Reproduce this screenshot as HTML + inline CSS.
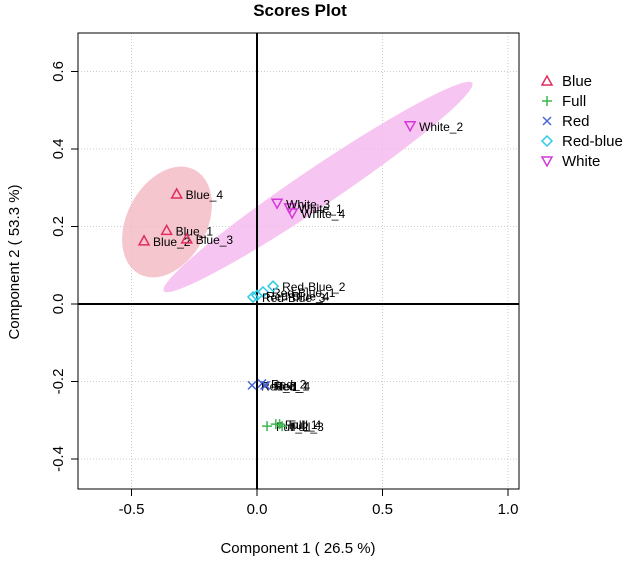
<!DOCTYPE html>
<html><head><meta charset="utf-8"><style>
body{margin:0;background:#fff;font-family:"Liberation Sans",sans-serif}
</style></head><body>
<svg id="chart" width="638" height="562" xmlns="http://www.w3.org/2000/svg" font-family="Liberation Sans, sans-serif">
<text x="300" y="16" text-anchor="middle" font-weight="bold" font-size="17">Scores Plot</text>
<g id="grid"></g>
<ellipse cx="167" cy="222" rx="40" ry="59" transform="rotate(28 167 222)" fill="#f2b8c0" opacity="0.8"/>
<ellipse cx="318" cy="187" rx="186" ry="19" transform="rotate(-34 318 187)" fill="#f5b6ee" opacity="0.8"/>
<g id="axes"></g>
<g id="marks"></g>
<rect x="78" y="33" width="441" height="456" fill="none" stroke="#000"/>
<text x="298" y="553" text-anchor="middle" font-size="15">Component 1 ( 26.5 %)</text>
<text transform="translate(19 262) rotate(-90)" text-anchor="middle" font-size="15">Component 2 ( 53.3 %)</text>
<g id="legend"></g>
</svg>
<script>
const xTicks=[-0.5,0.0,0.5,1.0];
const xTickLabels=["-0.5","0.0","0.5","1.0"];
const yTicks=[-0.4,-0.2,0.0,0.2,0.4,0.6];
const yTickLabels=["-0.4","-0.2","0.0","0.2","0.4","0.6"];
const groups=["Blue","Full","Red","Red-blue","White"];
const sampleNames=["Blue_1","Blue_2","Blue_3","Blue_4","Full_1","Full_2","Full_3","Full_4","Red_1","Red_2","Red_3","Red_4","Red-Blue_1","Red-Blue_2","Red-Blue_3","Red-Blue_4","White_1","White_2","White_3","White_4"];
const sampleGroup=[0,0,0,0,1,1,1,1,2,2,2,2,3,3,3,3,4,4,4,4];
const pc1=[-0.36,-0.45,-0.28,-0.32,0.075,0.04,0.1,0.09,0.03,0.02,-0.02,0.035,0.024,0.064,-0.016,0.0,0.13,0.61,0.08,0.14];
const pc2=[0.19,0.163,0.168,0.284,-0.31,-0.315,-0.315,-0.31,-0.21,-0.205,-0.21,-0.21,0.031,0.046,0.018,0.022,0.248,0.46,0.26,0.235];
const colors=["#df2d5f","#3db64e","#4a66d8","#2fc9e6","#d438d8"];
const NS="http://www.w3.org/2000/svg";
const X=v=>257+v*251;
const Y=v=>304-v*387.5;
function mk(t,a,p){const e=document.createElementNS(NS,t);for(const k in a)e.setAttribute(k,a[k]);p.appendChild(e);return e;}
const grid=document.getElementById('grid'),axes=document.getElementById('axes'),marks=document.getElementById('marks'),legend=document.getElementById('legend');
xTicks.forEach((v,i)=>{
 const l=mk('line',{x1:X(v),x2:X(v),y1:33,y2:489,stroke:'#ccc','stroke-dasharray':'1,2'},grid);
 
 const tk=mk('line',{x1:X(v),x2:X(v),y1:489,y2:496,stroke:'#000'},axes);
 
 const t=mk('text',{x:X(v),y:514,'text-anchor':'middle','font-size':15},axes);t.textContent=xTickLabels[i];
 
});
yTicks.forEach((v,i)=>{
 const l=mk('line',{x1:78,x2:519,y1:Y(v),y2:Y(v),stroke:'#ccc','stroke-dasharray':'1,2'},grid);
 
 const tk=mk('line',{x1:71,x2:78,y1:Y(v),y2:Y(v),stroke:'#000'},axes);
 
 const t=mk('text',{transform:`translate(63 ${Y(v)}) rotate(-90)`,'text-anchor':'middle','font-size':15},axes);t.textContent=yTickLabels[i];
 
});
const zx=mk('line',{x1:X(0),x2:X(0),y1:33,y2:489,stroke:'#000','stroke-width':2},axes);

const zy=mk('line',{x1:78,x2:519,y1:Y(0),y2:Y(0),stroke:'#000','stroke-width':2},axes);

function sym(g,x,y,parent){
 const c=colors[g];const s=5;let e;
 if(g===0)e=mk('path',{d:`M${x-s} ${y+s*0.8}L${x+s} ${y+s*0.8}L${x} ${y-s}Z`,fill:'none',stroke:c,'stroke-width':1.5},parent);
 else if(g===1)e=mk('path',{d:`M${x-s} ${y}H${x+s}M${x} ${y-s}V${y+s}`,stroke:c,'stroke-width':1.5},parent);
 else if(g===2)e=mk('path',{d:`M${x-4} ${y-4}L${x+4} ${y+4}M${x-4} ${y+4}L${x+4} ${y-4}`,stroke:c,'stroke-width':1.5},parent);
 else if(g===3)e=mk('path',{d:`M${x} ${y-s}L${x+s} ${y}L${x} ${y+s}L${x-s} ${y}Z`,fill:'none',stroke:c,'stroke-width':1.5},parent);
 else e=mk('path',{d:`M${x-s} ${y-s*0.8}L${x+s} ${y-s*0.8}L${x} ${y+s}Z`,fill:'none',stroke:c,'stroke-width':1.5},parent);
 return e;
}
sampleNames.forEach((n,i)=>{
 const x=X(pc1[i]),y=Y(pc2[i]);
 const p=sym(sampleGroup[i],x,y,marks);
 
 
 const t=mk('text',{x:x+9,y:y+5,'font-size':12},marks);t.textContent=n;
 
 
});
groups.forEach((g,i)=>{
 const y=81+i*20;
 const p=sym(i,547,y,legend);
 
 
 const t=mk('text',{x:562,y:y+5,'font-size':15},legend);t.textContent=g;
 
 
});
</script>
</body></html>
